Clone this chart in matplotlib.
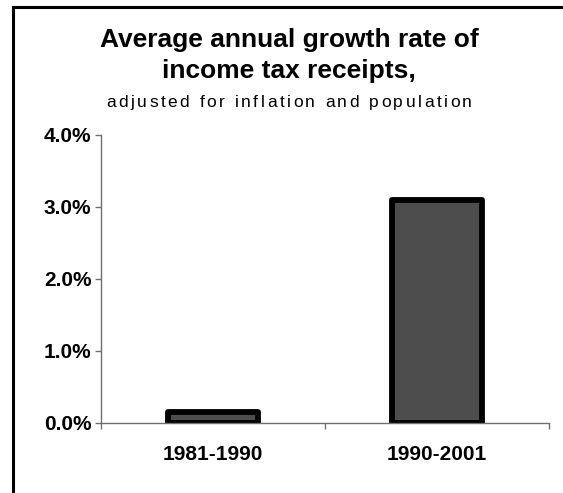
import matplotlib
matplotlib.use("Agg")
import matplotlib.pyplot as plt
from matplotlib.patches import Rectangle
from matplotlib.font_manager import FontProperties
from matplotlib.ticker import FuncFormatter

periods = ["1981-1990", "1990-2001"]
growth = [0.15, 3.1]  # percent per year
yticks = [0.0, 1.0, 2.0, 3.0, 4.0]
title_lines = ["Average annual growth rate of", "income tax receipts,"]
subtitle = "adjusted for inflation and population"

plt.rcParams['font.family'] = ['Liberation Sans', 'DejaVu Sans']

W, H = 563, 493
fig = plt.figure(figsize=(W/100, H/100), dpi=100)
ax = fig.add_axes([101/W, 1 - 423/H, (549 - 101)/W, (423 - 135)/H])

x = list(range(len(periods)))
ax.bar(x, growth, width=0.4, color="#4d4d4d", edgecolor="black",
       linewidth=4.2, joinstyle="round")

ax.set_xlim(-0.5, 1.5)
ax.set_ylim(0, 4.0)
ax.set_yticks(yticks)
ax.yaxis.set_major_formatter(FuncFormatter(lambda v, p: "%.1f%%" % v))
ax.set_xticks([-0.5, 0.5, 1.5])
ax.set_xticklabels([])
for i, lab in enumerate(periods):
    ax.text(i, -(455 - 423)/72, lab, ha="center", va="center", fontsize=15,
            fontweight="bold")

for s in ["top", "right"]:
    ax.spines[s].set_visible(False)
for s in ["left", "bottom"]:
    ax.spines[s].set_color("#707070")
    ax.spines[s].set_linewidth(1.0)
ax.tick_params(axis="both", direction="out", length=4, color="#707070", width=1.0)
ax.tick_params(axis="y", labelsize=15, pad=3)
for t in ax.get_yticklabels():
    t.set_fontweight("bold")
ax.patch.set_alpha(0)

cx = 289/W
fig.text(cx, 1 - 47/H, title_lines[0], ha="center", va="baseline",
         fontsize=19, fontweight="bold")
fig.text(cx, 1 - 78/H, title_lines[1], ha="center", va="baseline",
         fontsize=19, fontweight="bold")

# subtitle with wide letter spacing, placed char by char
renderer = fig.canvas.get_renderer()
fp = FontProperties(family="Liberation Sans", size=12.5)
def tw(s):
    if not s:
        return 0.0
    return renderer.get_text_width_height_descent(s, fp, ismath=False)[0]
natural = tw(subtitle)
target = 366.0
gap = (target - natural) / (len(subtitle) - 1)
x0 = 289 - target/2
for i, ch in enumerate(subtitle):
    if ch == " ":
        continue
    pos = tw(subtitle[:i+1]) - tw(ch) + i*gap
    fig.text((x0 + pos)/W, 1 - 107/H, ch, ha="left", va="baseline",
             fontproperties=fp)

# outer frame (only top/left visible in the original crop)
fig.patches.append(Rectangle((13.2/W, -0.2), 1.5, 1.2 - 6.5/H, transform=fig.transFigure,
                             fill=False, edgecolor="black", linewidth=2.2))

fig.savefig("out.png", dpi=100)
